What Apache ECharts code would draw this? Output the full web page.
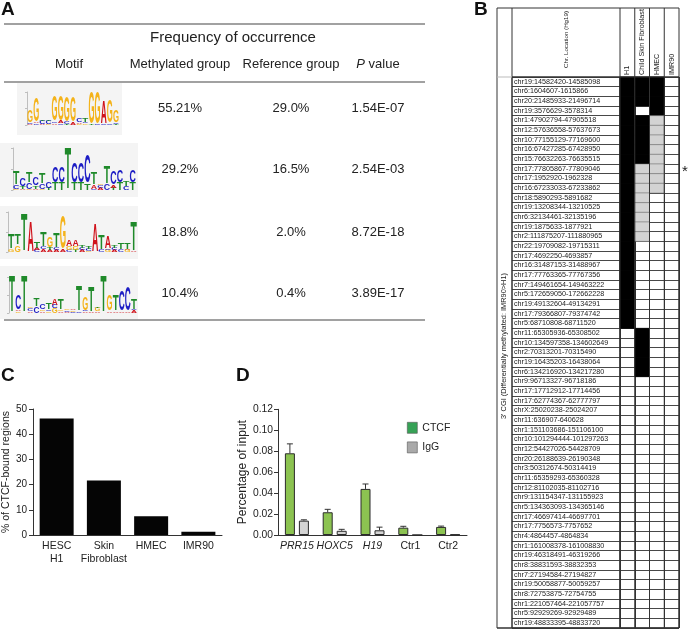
<!DOCTYPE html>
<html><head><meta charset="utf-8">
<script src="https://cdn.jsdelivr.net/npm/echarts@6/dist/echarts.min.js"></script>
<style>html,body{margin:0;padding:0;background:#fff}#c{width:691px;height:629px}</style>
</head><body><div id="c"></div>
<script>
const FONT = '"Liberation Sans", Arial, Helvetica, sans-serif';

// ---------- Panel A data ----------
const motifHeaders = ['Motif', 'Methylated group', 'Reference group', 'P value'];
const motifMethylated = ['55.21%', '29.2%', '18.8%', '10.4%'];
const motifReference = ['29.0%', '16.5%', '2.0%', '0.4%'];
const motifPValues = ['1.54E-07', '2.54E-03', '8.72E-18', '3.89E-17'];
// sequence logos: each position lists letters bottom -> top with information (bits)
const logo1Motif = ['A0.05 C0.1 G0.75','C0.1 A0.1 G1.45','A0.05 C0.2 T0.1','G0.05 C0.2 T0.1','A0.1 C0.1 G1.55','C0.1 A0.15 G1.5','T0.05 C0.15 G1.5','A0.15 G1.55','G0.05 A0.1 C0.2','G0.1 C0.1 T0.2','T0.05 G1.9','C0.05 G1.9','C0.05 A1.35','C0.1 G1.35','T0.05 C0.1 G0.75'];
const logo2Motif = ['G0.05 C0.2 T0.62','A0.05 T0.1 C0.35','G0.05 C0.3 T0.52','A0.05 T0.15 C0.4','G0.05 C0.25 T0.5','T0.1 C0.3','T0.35 C0.75','T0.35 C0.75','T1.98','T0.35 C0.92','T0.35 C0.92','T0.3 C1.3','C0.05 A0.2 T0.55','A0.1 C0.15 G0.05','C0.3 T0.8','T0.1 A0.15 C0.6','T0.35 C0.55','C0.2 T0.25','T0.35 C0.55'];
const logo3Motif = ['G0.15 T0.75','G0.35 T0.55','T1.83','A1.5','C0.1 A0.1 T0.3','A0.15 C0.1 T0.75','A0.1 T0.1 G0.55','A0.1 C0.1 T0.7','A0.1 G1.65','C0.1 G0.2 A0.3','T0.1 G0.2 A0.3','A0.1 C0.1 T0.15','G0.05 C0.1 T0.1','A1.42','C0.1 T0.73','G0.1 C0.05 A0.6','A0.1 C0.1 T0.15','C0.15 T0.35','G0.1 A0.05 T0.35','A0.05 T1.45'];
const logo4Motif = ['T1.95','G0.1 A0.1 C0.8','T1.95','A0.1 C0.15 G0.1','C0.35 T0.4','A0.1 G0.1 C0.3','G0.1 C0.1 T0.35','G0.25 C0.2 A0.35','A0.1 G0.1 T0.55','A0.05 C0.1 G0.05','C0.05 G0.1 A0.05','C0.1 T1.38','A0.1 C0.05 G0.75','A0.05 T1.4','A0.1 G0.2 T0.1','T1.95','A0.1 G0.9','A0.1 T0.9','A0.1 C1.1','A0.1 C1.3','A0.15 C0.05 T0.55'];

// ---------- Panel B data ----------
const cgiLocations = ['chr19:14582420-14585098','chr6:1604607-1615866','chr20:21485933-21496714','chr19:3576629-3578314','chr1:47902794-47905518','chr12:57636558-57637673','chr10:77155129-77169600','chr16:67427285-67428950','chr15:76632263-76635515','chr17:77805867-77809046','chr17:1952920-1962328','chr16:67233033-67233862','chr18:5890293-5891682','chr19:13208344-13210525','chr6:32134461-32135196','chr19:1875633-1877921','chr2:111875207-111880965','chr22:19709082-19715311','chr17:4692250-4693857','chr16:31487153-31488967','chr17:77763365-77767356','chr7:149461654-149463222','chr5:172659050-172662228','chr19:49132604-49134291','chr17:79366807-79374742','chr5:68710808-68711520','chr11:65305936-65308502','chr10:134597358-134602649','chr2:70313201-70315490','chr19:16435203-16438064','chr6:134216920-134217280','chr9:96713327-96718186','chr17:17712912-17714456','chr17:62774367-62777797','chrX:25020238-25024207','chr11:636907-640628','chr1:151103686-151106100','chr10:101294444-101297263','chr12:54427026-54428709','chr20:26188639-26190348','chr3:50312674-50314419','chr11:65359293-65360328','chr12:81102035-81102716','chr9:131154347-131155923','chr5:134363093-134365146','chr17:46697414-46697701','chr17:7756573-7757652','chr4:4864457-4864834','chr1:161008378-161008830','chr19:46318491-46319266','chr8:38831593-38832353','chr7:27194584-27194827','chr19:50058877-50059257','chr8:72753875-72754755','chr1:221057464-221057757','chr5:92929269-92929489','chr19:48833395-48833720'];
const cellColumns = ['H1', 'Child Skin Fibroblast', 'HMEC', 'IMR90'];
// 2 = black, 1 = grey, 0 = white
const h1State =        [2,2,2,2,2,2,2,2,2,2, 2,2,2,2,2,2,2,2,2,2, 2,2,2,2,2,2,0,0,0,0, 0,0,0,0,0,0,0,0,0,0, 0,0,0,0,0,0,0,0,0,0, 0,0,0,0,0,0,0];
const fibroblastState =[2,2,2,0,2,2,2,2,2,1, 1,1,1,1,1,1,1,0,0,0, 0,0,0,0,0,0,2,2,2,2, 2,0,0,0,0,0,0,0,0,0, 0,0,0,0,0,0,0,0,0,0, 0,0,0,0,0,0,0];
const hmecState =      [2,2,2,2,1,1,1,1,1,1, 1,1,0,0,0,0,0,0,0,0, 0,0,0,0,0,0,0,0,0,0, 0,0,0,0,0,0,0,0,0,0, 0,0,0,0,0,0,0,0,0,0, 0,0,0,0,0,0,0];
const imr90State =     [0,0,0,0,0,0,0,0,0,0, 0,0,0,0,0,0,0,0,0,0, 0,0,0,0,0,0,0,0,0,0, 0,0,0,0,0,0,0,0,0,0, 0,0,0,0,0,0,0,0,0,0, 0,0,0,0,0,0,0];
const starredRow = 'chr17:77805867-77809046';

// ---------- Panel C data ----------
const cellLines = ['HESC\nH1', 'Skin\nFibroblast', 'HMEC', 'IMR90'];
const ctcfBoundPct = [46.2, 21.6, 7.4, 1.3];
const cTicks = [0, 10, 20, 30, 40, 50];

// ---------- Panel D data ----------
const loci = ['PRR15', 'HOXC5', 'H19', 'Ctr1', 'Ctr2'];
const italicLoci = ['PRR15', 'HOXC5', 'H19'];
const ctcfInput = [0.078, 0.0217, 0.044, 0.007, 0.0077];
const ctcfErr = [0.009, 0.0028, 0.0047, 0.0013, 0.0008];
const iggInput = [0.0137, 0.004, 0.0045, 0, 0.0005];
const iggErr = [0.0008, 0.0014, 0.003, 0, 0];

// ================= build =================
const LETTER_COLOR = {A: '#d0121b', C: '#1c1cc4', G: '#f4b31a', T: '#1f8a2a'};
const LETTER_W = {A: 0.722, C: 0.722, G: 0.778, T: 0.611};
function logoData(motif) {
  const out = [];
  motif.forEach((p, i) => {
    let y = 0;
    p.split(' ').forEach(tok => {
      const h = parseFloat(tok.slice(1));
      out.push([i, y, y + h, 'ACGT'.indexOf(tok[0])]);
      y += h;
    });
  });
  return out;
}
function renderLetter(params, api) {
  const i = api.value(0), y0 = api.value(1), y1 = api.value(2), L = 'ACGT'[api.value(3)];
  const p0 = api.coord([i, y0]), p1 = api.coord([i + 1, y1]);
  const w = p1[0] - p0[0], h = p0[1] - p1[1];
  if (h < 0.3) return null;
  const F = 20;
  const sx = (w * 0.98) / (LETTER_W[L] * F);
  const sy = h / (0.716 * F);
  return {type: 'text', x: (p0[0] + p1[0]) / 2, y: (p0[1] + p1[1]) / 2 + 0.048 * F * sy,
    scaleX: sx, scaleY: sy,
    style: {text: L, fontSize: F, fontWeight: 'bold', fontFamily: FONT, fill: LETTER_COLOR[L], align: 'center', verticalAlign: 'middle'}};
}

const logos = [logo1Motif, logo2Motif, logo3Motif, logo4Motif];
const logoGrids = [
  {left: 27, top: 92, width: 92, height: 33},
  {left: 13, top: 148, width: 123, height: 42},
  {left: 8, top: 212, width: 129, height: 40},
  {left: 9, top: 277, width: 128, height: 36}
];
const logoBg = [[17, 83, 105, 52], [0, 143, 138, 54], [0, 206, 138, 53], [0, 266, 138, 53]];

// Panel B layout
const B = {outer: 497, loc: 512, cells: 620, right: 679, top: 8, head: 77, bottom: 628};
const stateCols = [h1State, fibroblastState, hmecState, imr90State];
const cellData = [];
cgiLocations.forEach((loc, r) => stateCols.forEach((col, c) => cellData.push([c, r, col[r]])));

function renderCell(params, api) {
  const v = api.value(2);
  if (!v) return null;
  const c = api.coord([api.value(0), api.value(1)]);
  const s = api.size([1, 1]);
  return {type: 'rect', shape: {x: c[0] - s[0] / 2, y: c[1] - s[1] / 2, width: s[0], height: s[1]},
    style: {fill: v === 2 ? '#000' : '#d3d3d3', stroke: v === 2 ? '#000' : '#777', lineWidth: v === 2 ? 0.8 : 0.5}};
}

function renderErr(params, api) {
  const idx = api.value(0), v = api.value(1), e = api.value(2), side = api.value(3);
  if (!(e > 0)) return null;
  const base = api.coord([idx, v]), top = api.coord([idx, v + e]);
  const x = base[0] + side * 7;
  return {type: 'group', children: [
    {type: 'line', shape: {x1: x, y1: base[1], x2: x, y2: top[1]}, style: {stroke: '#333', lineWidth: 1}},
    {type: 'line', shape: {x1: x - 3, y1: top[1], x2: x + 3, y2: top[1]}, style: {stroke: '#333', lineWidth: 1}}
  ]};
}

// graphics
const G = [];
function line(x1, y1, x2, y2, stroke, w) { G.push({type: 'line', z: 5, shape: {x1, y1, x2, y2}, style: {stroke: stroke || '#333', lineWidth: w || 1}}); }
function text(x, y, t, style, rotation) {
  G.push({type: 'text', z: 6, x, y, rotation: rotation || 0,
    style: Object.assign({text: t, fontFamily: FONT, fill: '#222', fontSize: 13, align: 'center', verticalAlign: 'middle'}, style || {})});
}
// panel letters
text(1, 0, 'A', {fontSize: 19, fontWeight: 'bold', align: 'left', verticalAlign: 'top', fill: '#111'});
text(474, 0, 'B', {fontSize: 19, fontWeight: 'bold', align: 'left', verticalAlign: 'top', fill: '#111'});
text(1, 366, 'C', {fontSize: 19, fontWeight: 'bold', align: 'left', verticalAlign: 'top', fill: '#111'});
text(236, 366, 'D', {fontSize: 19, fontWeight: 'bold', align: 'left', verticalAlign: 'top', fill: '#111'});

// panel A table
line(4, 24, 425, 24, '#444', 1.2);
line(4, 82, 425, 82, '#444', 1.2);
line(4, 320, 425, 320, '#444', 1.2);
text(233, 38, 'Frequency of occurrence', {fontSize: 15});
const colX = [69, 180, 291, 378];
text(colX[0], 64, motifHeaders[0]);
text(colX[1], 64, motifHeaders[1]);
text(colX[2], 64, motifHeaders[2]);
text(colX[3], 64, '{i|P} value', {rich: {i: {fontStyle: 'italic', fontSize: 13, fontFamily: FONT, fill: '#222'}}});
const rowY = [108, 169, 232, 293];
rowY.forEach((y, i) => {
  text(colX[1], y, motifMethylated[i]);
  text(colX[2], y, motifReference[i]);
  text(colX[3], y, motifPValues[i]);
});
logoBg.forEach(r => G.push({type: 'rect', z: 0, shape: {x: r[0], y: r[1], width: r[2], height: r[3]}, style: {fill: '#f4f4f4'}}));

// panel B frame
const colW = (B.right - B.cells) / 4;
const vx = [B.loc, B.cells, B.cells + colW, B.cells + 2 * colW, B.cells + 3 * colW, B.right];
line(B.outer, B.top, B.outer, B.bottom, '#9a9a9a', 2);
vx.forEach(x => line(x, B.top, x, B.bottom, '#333', 1));
line(B.outer, B.top, B.right, B.top, '#333', 1);
line(B.outer, B.head, B.loc, B.head, '#bbb', 1);
line(B.loc, B.head, B.right, B.head, '#333', 1);
line(B.outer, B.bottom, B.right, B.bottom, '#333', 1.5);
text(566, 11, 'Chr. Location (Hg19)', {fontSize: 6.2, align: 'right'}, Math.PI / 2);
cellColumns.forEach((name, i) => text(B.cells + colW * (i + 0.5), 75, name, {fontSize: 7.2, align: 'left'}, Math.PI / 2));
text(504, 346, "3' CGI (Differentially methylated: IMR90>H1)", {fontSize: 7.4}, Math.PI / 2);
const starIdx = cgiLocations.indexOf(starredRow);
const rowH = (B.bottom - B.head) / cgiLocations.length;
text(685, B.head + rowH * (starIdx + 0.5) + 3, '*', {fontSize: 15});

const axisFont = {fontFamily: FONT, color: '#222'};

const option = {
  animation: false,
  textStyle: {fontFamily: FONT},
  grid: [
    ...logoGrids,
    {left: B.loc, top: B.head, width: B.cells - B.loc, height: B.bottom - B.head, show: true, borderColor: '#333', borderWidth: 1},
    {left: B.cells, top: B.head, width: B.right - B.cells, height: B.bottom - B.head, show: true, borderColor: '#333', borderWidth: 1},
    {left: 32, top: 409, width: 190, height: 126},
    {left: 278, top: 409.3, width: 189, height: 125.7}
  ],
  xAxis: [
    ...logos.map((m, i) => ({gridIndex: i, type: 'value', min: 0, max: m.length, show: false})),
    {gridIndex: 4, type: 'category', data: [''], show: false},
    {gridIndex: 5, type: 'category', data: cellColumns, axisLine: {show: false}, axisTick: {show: false}, axisLabel: {show: false},
      splitLine: {show: true, interval: 0, lineStyle: {color: '#333', width: 1}}},
    {gridIndex: 6, type: 'category', data: cellLines,
      axisLine: {lineStyle: {color: '#333', width: 1}}, axisTick: {alignWithLabel: true, length: 4, lineStyle: {color: '#333'}},
      axisLabel: Object.assign({fontSize: 10.5, lineHeight: 13, margin: 5, interval: 0}, axisFont)},
    {gridIndex: 7, type: 'category', data: loci,
      axisLine: {lineStyle: {color: '#333', width: 1}}, axisTick: {alignWithLabel: true, length: 4, lineStyle: {color: '#333'}},
      axisLabel: Object.assign({fontSize: 10.5, margin: 6, interval: 0,
        formatter: v => italicLoci.indexOf(v) >= 0 ? '{it|' + v + '}' : v,
        rich: {it: {fontStyle: 'italic', fontSize: 10.5, fontFamily: FONT, color: '#222'}}}, axisFont)}
  ],
  yAxis: [
    ...logos.map((m, i) => ({gridIndex: i, type: 'value', min: 0, max: 2, interval: 1, offset: 2,
      axisLine: {show: true, lineStyle: {color: '#999', width: 0.6}}, axisTick: {show: true, length: 2, lineStyle: {color: '#999', width: 0.6}},
      axisLabel: {show: false}, splitLine: {show: false}})),
    {gridIndex: 4, type: 'category', data: cgiLocations, inverse: true,
      axisLine: {show: false}, axisTick: {show: false},
      axisLabel: {inside: true, margin: 2, interval: 0, fontSize: 7.2, color: '#222', fontFamily: FONT},
      splitLine: {show: true, interval: 0, lineStyle: {color: '#333', width: 0.9}}},
    {gridIndex: 5, type: 'category', data: cgiLocations, inverse: true,
      axisLine: {show: false}, axisTick: {show: false}, axisLabel: {show: false},
      splitLine: {show: true, interval: 0, lineStyle: {color: '#333', width: 0.9}}},
    {gridIndex: 6, type: 'value', min: cTicks[0], max: cTicks[cTicks.length - 1], interval: 10,
      axisLine: {show: true, lineStyle: {color: '#333', width: 1}}, axisTick: {show: true, length: 4, lineStyle: {color: '#333'}},
      axisLabel: Object.assign({fontSize: 10, margin: 6}, axisFont), splitLine: {show: false},
      name: '% of CTCF-bound regions', nameLocation: 'middle', nameGap: 20,
      nameTextStyle: {fontSize: 10.5, color: '#222', fontFamily: FONT}},
    {gridIndex: 7, type: 'value', min: 0, max: 0.12, interval: 0.02,
      axisLine: {show: true, lineStyle: {color: '#333', width: 1}}, axisTick: {show: true, length: 4, lineStyle: {color: '#333'}},
      axisLabel: Object.assign({fontSize: 10.3, margin: 5, formatter: v => v.toFixed(2)}, axisFont), splitLine: {show: false},
      name: 'Percentage of input', nameLocation: 'middle', nameGap: 27,
      nameTextStyle: {fontSize: 12, color: '#222', fontFamily: FONT}}
  ],
  legend: {
    data: [{name: 'CTCF', itemStyle: {color: '#36a256', borderColor: '#555', borderWidth: 0.6}},
           {name: 'IgG', itemStyle: {color: '#a9a9a9', borderColor: '#555', borderWidth: 0.6}}],
    orient: 'vertical', left: 402, top: 417, itemWidth: 10, itemHeight: 11, itemGap: 8, icon: 'rect',
    textStyle: {fontSize: 10.5, color: '#222', fontFamily: FONT}
  },
  series: [
    ...logos.map((m, i) => ({type: 'custom', xAxisIndex: i, yAxisIndex: i, data: logoData(m), renderItem: renderLetter,
      encode: {x: [0], y: [1, 2]}, silent: true})),
    {type: 'custom', xAxisIndex: 5, yAxisIndex: 5, data: cellData, renderItem: renderCell, encode: {x: 0, y: 1}, silent: true},
    {type: 'bar', xAxisIndex: 6, yAxisIndex: 6, data: ctcfBoundPct, barWidth: 34, itemStyle: {color: '#050505'}},
    {name: 'CTCF', type: 'bar', xAxisIndex: 7, yAxisIndex: 7, data: ctcfInput, barWidth: 10, barGap: '40%',
      itemStyle: {color: '#8cc351', borderColor: '#2b2b2b', borderWidth: 1}},
    {name: 'IgG', type: 'bar', xAxisIndex: 7, yAxisIndex: 7, data: iggInput, barWidth: 10, barGap: '40%',
      itemStyle: {color: '#d4d4d4', borderColor: '#2b2b2b', borderWidth: 1}},
    {type: 'custom', xAxisIndex: 7, yAxisIndex: 7, renderItem: renderErr, encode: {x: 0, y: 1}, z: 5,
      data: loci.map((l, i) => [i, ctcfInput[i], ctcfErr[i], -1]).concat(loci.map((l, i) => [i, iggInput[i], iggErr[i], 1]))}
  ],
  graphic: {elements: G}
};

const chart = echarts.init(document.getElementById('c'), null, {renderer: 'canvas', width: 691, height: 629});
chart.setOption(option);
</script>
</body></html>
